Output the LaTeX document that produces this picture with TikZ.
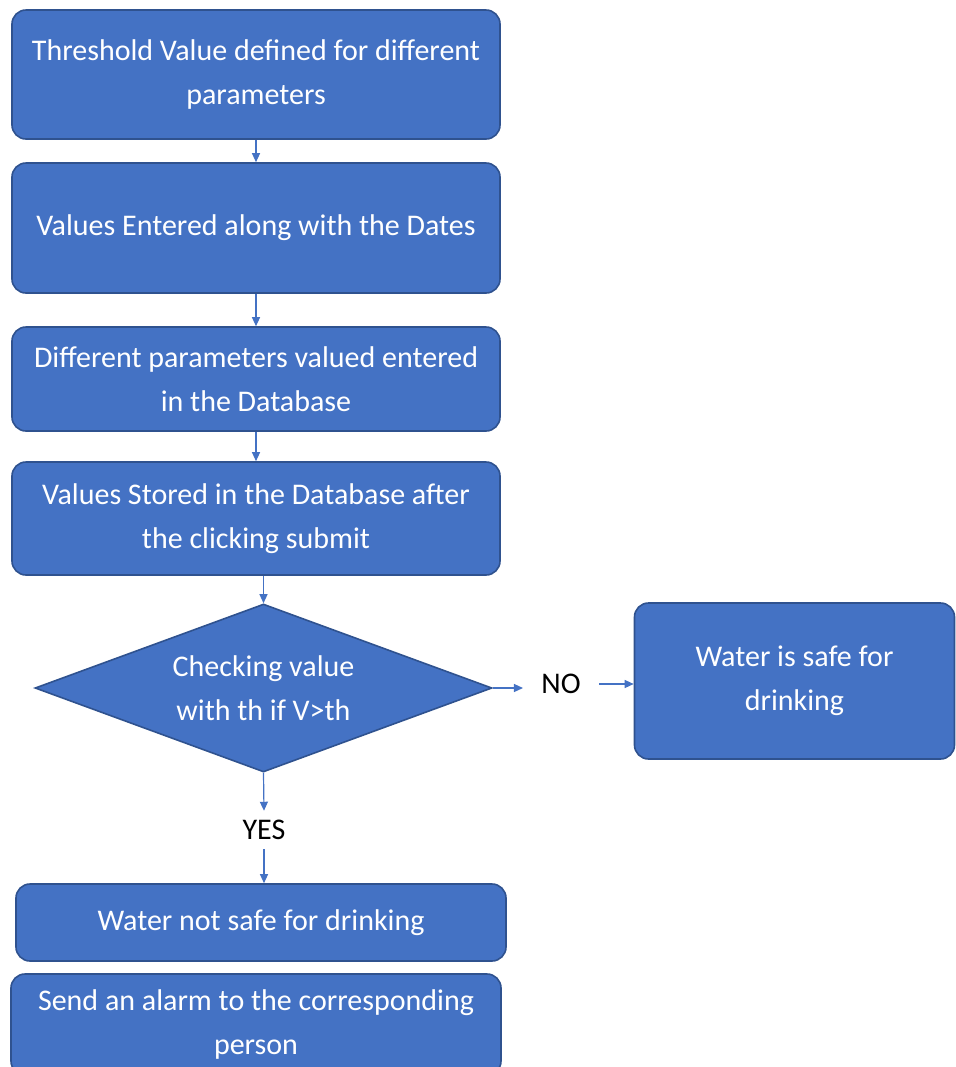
\documentclass[tikz,border=0pt]{standalone}
\usepackage{fontspec}
\setmainfont{Carlito}
\definecolor{offblue}{RGB}{68,114,196}
\definecolor{offdark}{RGB}{47,82,143}
\usetikzlibrary{arrows.meta,positioning,shapes.geometric}

\begin{document}
\begin{tikzpicture}[x=0.5pt,y=-0.5pt,
  flowbox/.style={draw=offdark,line width=0.8pt,fill=offblue,rounded corners=7pt,
    text=white,align=center,font=\fontsize{15}{22}\selectfont},
  decide/.style={diamond,draw=offdark,line width=0.8pt,fill=offblue,text=white,
    align=center,font=\fontsize{15}{22}\selectfont,inner sep=0pt,aspect=2.72},
  answer/.style={font=\fontsize{15}{18}\selectfont,inner xsep=9pt,inner ysep=4.5pt},
  arr/.style={-{Triangle[length=4.5pt,width=4pt]},line width=0.6pt,offblue}
]
  \clip (0,0) rectangle (956,1067);

  % Main flow
  \node[flowbox,minimum width=244pt,minimum height=64.5pt] (thresh) at (256,74.5)
    {Threshold Value defined for different\\parameters};
  \node[flowbox,minimum width=244pt,minimum height=65pt] (enter) at (256,228)
    {Values Entered along with the Dates};
  \node[flowbox,minimum width=244pt,minimum height=52pt] (param) at (256,379)
    {Different parameters valued entered\\in the Database};
  \node[flowbox,minimum width=244pt,minimum height=56.5pt] (store) at (256,518.5)
    {Values Stored in the Database after\\the clicking submit};

  % Decision
  \node[decide,minimum width=228.5pt,minimum height=84pt] (check) at (263.5,688)
    {Checking value\\with th if V>th};
  \node[answer] (no) at (561,684) {NO};
  \node[flowbox,minimum width=160pt,minimum height=78pt] (safe) at (794.5,681)
    {Water is safe for\\drinking};
  \node[answer] (yes) at (264,830) {YES};

  % Outcome
  \node[flowbox,minimum width=245pt,minimum height=38.5pt] (unsafe) at (261,922.5)
    {Water not safe for drinking};
  \node[flowbox,minimum width=245pt,minimum height=50.5pt] (alarm) at (256,1024.5)
    {Send an alarm to the corresponding\\person};

  \draw[arr] (thresh) -- (enter);
  \draw[arr] (enter) -- (param);
  \draw[arr] (param) -- (store);
  \draw[arr] (store.south -| check.north) -- (check.north);
  \draw[arr] (check.east) -- (no.west |- check.east);
  \draw[arr] (no.east) -- (safe.west |- no.east);
  \draw[arr] (check.south) -- (yes.north);
  \draw[arr] (yes.south) -- (yes.south |- unsafe.north);
\end{tikzpicture}
\end{document}
